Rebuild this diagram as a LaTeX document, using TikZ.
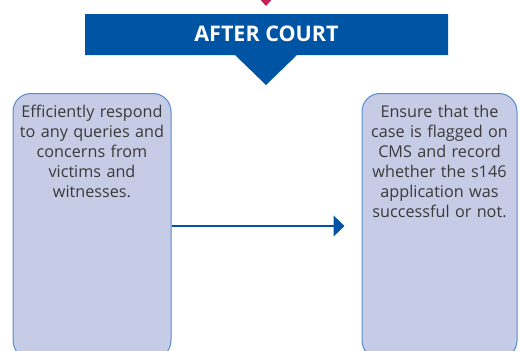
\documentclass[tikz,border=0pt]{standalone}
\usepackage{fontspec}
\setmainfont{Open Sans}
\usetikzlibrary{arrows.meta,positioning}

\definecolor{courtblue}{RGB}{0,84,164}
\definecolor{stepfill}{RGB}{198,204,230}
\definecolor{stepline}{RGB}{84,140,206}
\definecolor{magentatip}{RGB}{200,32,92}
\definecolor{bodytext}{RGB}{58,58,58}

\begin{document}
\begin{tikzpicture}[x=1pt,y=-1pt,>={Triangle[length=11pt,width=21pt]},line join=round,
  stepbox/.style={draw=stepline,fill=stepfill,line width=1pt,rounded corners=18pt,
    minimum height=265pt,inner sep=0pt,anchor=north},
  steptext/.style={align=center,text=bodytext,inner sep=0pt,anchor=north,
    font=\fontsize{16.2}{20}\selectfont}]
\useasboundingbox (0,0) rectangle (520,351);
\clip (0,0) rectangle (520,351);
% tip of the arrow coming down from the previous stage
\fill[magentatip] (250,-12) -- (282,-12) -- (266,6) -- cycle;
% heading banner
\fill[courtblue] (85,14) -- (448,14) -- (448,55) -- (297,55) -- (266,85) -- (235,55) -- (85,55) -- cycle;
\node[text=white,font=\bfseries\fontsize{21.5}{24}\selectfont] (head) at (266.5,34) {AFTER COURT};
% the two steps
\node[stepbox,minimum width=158pt] (respond) at (92,93) {};
\node[steptext,text width=156pt] (respondtxt) at (92,105)
  {Efficiently respond\\to any queries and\\concerns from\\victims and\\witnesses.};
\node[stepbox,minimum width=155pt] (flag) at (439.5,93) {};
\node[steptext,text width=153pt] (flagtxt) at (439.5,105)
  {Ensure that the\\case is flagged on\\CMS and record\\whether the s146\\application was\\successful or not.};
\draw[->,courtblue,line width=1.3pt,shorten >=17pt] (respond.east) -- (flag.west);
\end{tikzpicture}
\end{document}
